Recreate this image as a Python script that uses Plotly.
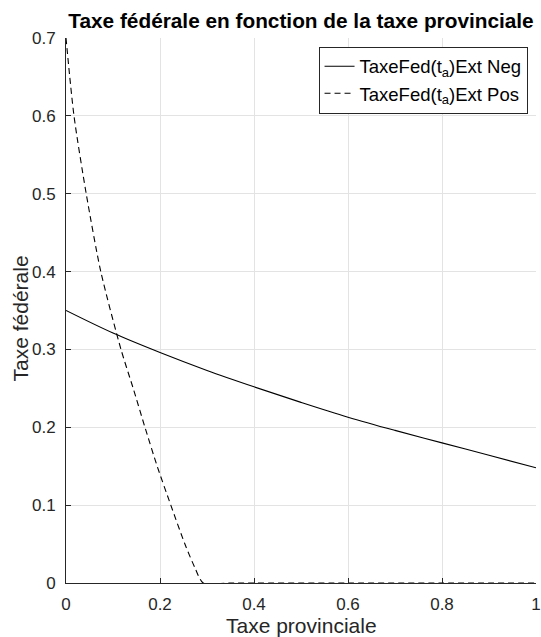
import plotly.graph_objects as go

# Data
x_neg = [0.0, 0.1, 0.2, 0.3, 0.4, 0.5, 0.6, 0.7, 0.8, 0.9, 1.0]
y_neg = [0.350, 0.321, 0.296, 0.273, 0.252, 0.232, 0.213, 0.196, 0.180, 0.164, 0.148]

x_pos = [0.0, 0.017, 0.043, 0.074, 0.117, 0.143, 0.168, 0.194, 0.223, 0.253, 0.274, 0.292, 0.35, 0.6, 0.8, 1.0]
y_pos = [0.700, 0.600, 0.500, 0.400, 0.300, 0.250, 0.200, 0.150, 0.100, 0.050, 0.020, 0.0, 0.0, 0.0, 0.0, 0.0]

x_ticks = [0, 0.2, 0.4, 0.6, 0.8, 1]
x_tick_labels = ["0", "0.2", "0.4", "0.6", "0.8", "1"]
y_ticks = [0, 0.1, 0.2, 0.3, 0.4, 0.5, 0.6, 0.7]
y_tick_labels = ["0", "0.1", "0.2", "0.3", "0.4", "0.5", "0.6", "0.7"]

FONT = "Liberation Sans, Arial, Helvetica, sans-serif"
AX = "#262626"
GRID = "#e3e3e3"

L, R, T, B = 66, 5, 38, 54
W, H = 541, 637

fig = go.Figure()
fig.add_trace(go.Scatter(
    x=x_neg, y=y_neg, mode="lines", line=dict(color="black", width=1.1, shape="spline"),
    name="TaxeFed(t<sub>a</sub>)Ext Neg"))
fig.add_trace(go.Scatter(
    x=x_pos, y=y_pos, mode="lines",
    line=dict(color="black", width=1.1, dash="6px,4px", shape="spline", smoothing=0.7),
    name="TaxeFed(t<sub>a</sub>)Ext Pos"))

axis_common = dict(
    showgrid=True, gridcolor=GRID, gridwidth=1,
    showline=True, linecolor=AX, linewidth=1,
    ticks="inside", ticklen=5, tickcolor=AX, tickwidth=1,
    tickfont=dict(family=FONT, size=17, color=AX),
    zeroline=False, ticklabelstandoff=6, automargin=False,
)

fig.update_layout(
    width=W, height=H,
    margin=dict(l=L, r=R, t=T, b=B),
    paper_bgcolor="white", plot_bgcolor="white",
    font=dict(family=FONT, color=AX),
    title=dict(text="<b>Taxe fédérale en fonction de la taxe provinciale</b>",
               font=dict(family=FONT, size=20.8, color="black"),
               x=0.5, xref="paper", xanchor="center",
               y=1 - 21 / H, yref="container", yanchor="middle"),
    xaxis=dict(range=[0, 1], tickvals=x_ticks, ticktext=x_tick_labels, **axis_common),
    yaxis=dict(range=[0, 0.7], tickvals=y_ticks, ticktext=y_tick_labels, **axis_common),
    legend=dict(x=0.982, y=0.984, xanchor="right", yanchor="top",
                bgcolor="white", bordercolor=AX, borderwidth=1,
                font=dict(family=FONT, size=18.5, color="black"),
                tracegroupgap=0, itemwidth=30),
    showlegend=True,
    annotations=[
        dict(text="Taxe provinciale", xref="paper", yref="paper", x=0.5, y=0,
             xanchor="center", yanchor="middle", yshift=-42, showarrow=False,
             font=dict(family=FONT, size=21, color=AX)),
        dict(text="Taxe fédérale", xref="paper", yref="paper", x=0, y=0.5,
             xanchor="center", yanchor="middle", xshift=-(L - 20), yshift=-8,
             textangle=-90, showarrow=False,
             font=dict(family=FONT, size=21, color=AX)),
    ],
)

fig.write_html("out.html", config={"displayModeBar": False},
               post_script="document.body.style.margin='0';document.body.style.overflow='hidden';")
